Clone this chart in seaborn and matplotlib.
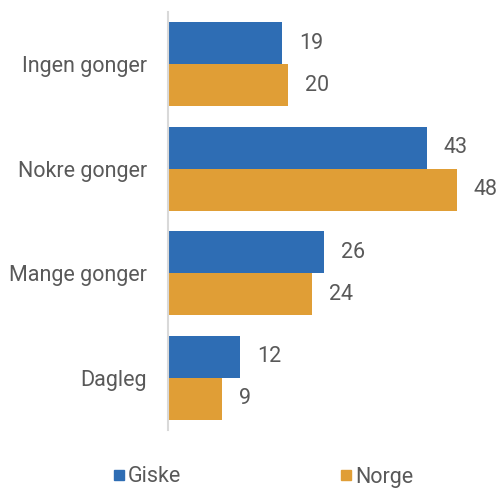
import matplotlib
matplotlib.use("Agg")
import matplotlib.pyplot as plt
from matplotlib.lines import Line2D
import seaborn as sns
import pandas as pd

categories = ["Ingen gonger", "Nokre gonger", "Mange gonger", "Dagleg"]
giske = [19, 43, 26, 12]
norge = [20, 48, 24, 9]
series = ["Giske", "Norge"]
colors = ["#2E6DB4", "#E09E36"]

df = pd.DataFrame({
    "kategori": categories * 2,
    "verdi": giske + norge,
    "område": [series[0]] * len(categories) + [series[1]] * len(categories),
})

sns.set_theme(style="white")
plt.rcParams["font.family"] = ["Roboto", "DejaVu Sans"]
text_color = "#595959"
fs = 15.5

fig = plt.figure(figsize=(4.98, 4.88), dpi=100)
ax = fig.add_axes([168 / 498, 1 - 430 / 488, (490 - 168) / 498, 418 / 488])

sns.barplot(data=df, y="kategori", x="verdi", hue="område", order=categories,
            hue_order=series, palette=colors, orient="h", width=0.8,
            saturation=1, linewidth=0, ax=ax, legend=False)

ax.set_xlim(0, 53.5)
ax.set_ylim(3.5, -0.5)
ax.set_xlabel("")
ax.set_ylabel("")
ax.set_xticks([])
ax.tick_params(axis="y", length=0, pad=15, labelsize=fs, labelcolor=text_color)
for s in ["top", "right", "bottom"]:
    ax.spines[s].set_visible(False)
ax.spines["left"].set_color("#D9D9D9")
ax.spines["left"].set_linewidth(1.5)

for container in ax.containers:
    ax.bar_label(container, fmt="%d", padding=12, fontsize=fs, color=text_color)

handles = [Line2D([0], [0], marker="s", linestyle="", markersize=7.5,
                  markerfacecolor=c, markeredgecolor=c) for c in colors]
fig.legend(handles, series, loc="center", bbox_to_anchor=(0.523, 1 - 477 / 488),
           ncol=2, frameon=False, fontsize=fs, labelcolor=text_color,
           handletextpad=-0.1, columnspacing=7.2, handlelength=1.0)

fig.savefig("out.png", dpi=100)
